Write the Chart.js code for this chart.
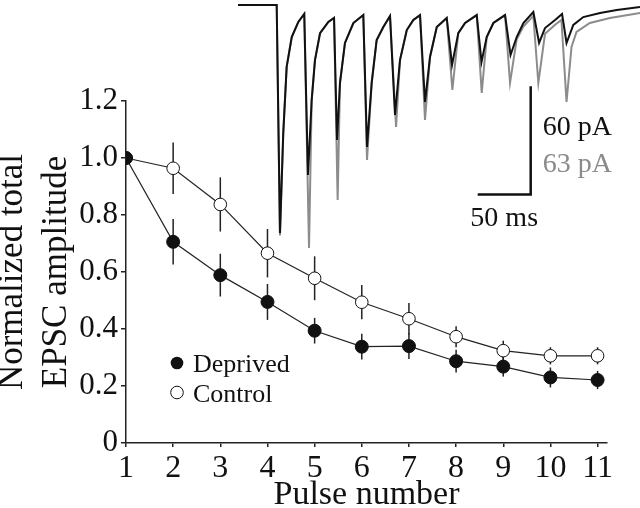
<!DOCTYPE html>
<html>
<head>
    <meta charset="utf-8">
    <title>Normalized total EPSC amplitude</title>
    <script src="https://cdn.jsdelivr.net/npm/chart.js"></script>
    <style>
        body {
            margin: 0;
            padding: 0;
            background-color: #fff;
        }

        #wrap {
            position: relative;
            width: 640px;
            height: 508px;
        }

        #mainChart {
            position: absolute;
            left: 0;
            top: 0;
        }

        #traceChart {
            position: absolute;
            left: 238px;
            top: 0;
        }
    </style>
</head>
<body>
    <div id="wrap">
        <canvas id="mainChart" width="640" height="508"></canvas>
        <canvas id="traceChart" width="402" height="250"></canvas>
    </div>

    <script>
        // main plot data
        var pulseNumbers = [1, 2, 3, 4, 5, 6, 7, 8, 9, 10, 11];
        var seriesNames = ['Deprived', 'Control'];
        var deprivedMean = [1.00, 0.706, 0.589, 0.495, 0.394, 0.338, 0.340, 0.287, 0.268, 0.230, 0.221];
        var deprivedErr = [0, 0.080, 0.075, 0.063, 0.045, 0.045, 0.045, 0.040, 0.035, 0.035, 0.032];
        var controlMean = [1.00, 0.964, 0.837, 0.666, 0.578, 0.494, 0.436, 0.373, 0.324, 0.306, 0.306];
        var controlErr = [0, 0.090, 0.095, 0.085, 0.077, 0.060, 0.055, 0.037, 0.035, 0.030, 0.030];
        var yTickValues = [0, 0.2, 0.4, 0.6, 0.8, 1.0, 1.2];
        var yTickLabels = ['0', '0.2', '0.4', '0.6', '0.8', '1.0', '1.2'];

        // inset traces (ms, pA)
        var blackT = [0, 36.5, 39.6, 42.7, 45.9, 50.7, 56.9, 62.5, 66.0, 69.5, 72.6, 77.4, 85.2, 90.6,
            93.4, 96.2, 100.9, 108.8, 118.2, 121.7, 126.1, 130.8, 137.1, 143.4, 148.1, 152.8, 159.2, 165.4, 171.7,
            176.4, 181.1, 187.5, 196.9, 201.9, 207.8, 214.2, 225.2, 229.7, 234.6, 240.9, 251.9,
            257.1, 262.9, 269.2, 278.6, 284.0, 289.6, 299.1, 305.7, 309.9, 316.3, 325.7, 341.5, 357.3, 379.2];
        var blackI = [0, 0, -126.7, -71.1, -34.4, -17.8, -9.4, -5.0, -94.4, -52.8, -30.6, -15.6, -9.4, -7.2,
            -75.0, -43.3, -21.1, -10.0, -5.6, -78.9, -43.3, -19.4, -12.2, -6.1, -61.1, -30.6, -13.9, -8.3, -5.6,
            -53.9, -28.9, -12.2, -7.2, -33.3, -15.6, -10.0, -5.6, -31.7, -17.8, -10.0, -5.6,
            -27.8, -17.8, -10.0, -3.9, -21.1, -12.8, -8.3, -5.0, -21.1, -11.1, -6.7, -4.4, -2.8, -1.1];
        var grayT = [0, 36.5, 39.6, 42.7, 45.9, 50.7, 56.9, 62.5, 67.0, 69.5, 72.6, 77.4, 85.2, 90.6,
            94.0, 96.2, 100.9, 108.8, 118.2, 121.7, 126.1, 130.8, 137.1, 143.4, 149.1, 152.8, 159.2, 165.4, 171.7,
            176.4, 181.1, 187.5, 196.9, 202.2, 207.8, 214.2, 225.2, 229.9, 234.6, 240.9, 251.9,
            256.6, 262.9, 269.2, 278.6, 283.3, 289.6, 299.1, 305.1, 309.9, 314.6, 319.3, 331.9, 350.8, 379.2];
        var grayI = [0, 0, -128.0, -71.1, -34.4, -17.8, -9.4, -5.0, -135.0, -52.8, -30.6, -15.6, -9.4, -7.2,
            -108.3, -43.3, -21.1, -10.0, -5.6, -86.1, -43.3, -19.4, -12.2, -6.1, -67.8, -30.6, -13.9, -8.3, -5.6,
            -63.9, -28.9, -12.2, -7.2, -47.2, -15.6, -10.0, -5.6, -48.9, -17.8, -10.0, -5.6,
            -43.3, -19.0, -12.0, -6.0, -43.3, -16.0, -11.0, -8.3, -53.9, -23.3, -15.0, -10.0, -7.2, -4.4];
        var scaleBarT = [226.1, 276.1, 276.1];
        var scaleBarI = [-105.2, -105.2, -45.2];
        var scaleLabels = ['60 pA', '63 pA', '50 ms'];

        var serif = "'Liberation Serif', 'Times New Roman', serif";

        function toPoints(xs, ys) {
            var pts = [];
            for (var i = 0; i < xs.length; i++) {
                pts.push({x: xs[i], y: ys[i]});
            }
            return pts;
        }

        var errorBars = {
            id: 'errorBars',
            beforeDatasetsDraw: function(chart) {
                var ctx = chart.ctx;
                var xs = chart.scales.x, ys = chart.scales.y;
                ctx.save();
                ctx.strokeStyle = '#222';
                ctx.lineWidth = 1.5;
                [[deprivedMean, deprivedErr], [controlMean, controlErr]].forEach(function(s) {
                    for (var i = 0; i < pulseNumbers.length; i++) {
                        if (!s[1][i]) continue;
                        var x = xs.getPixelForValue(pulseNumbers[i]);
                        ctx.beginPath();
                        ctx.moveTo(x, ys.getPixelForValue(s[0][i] - s[1][i]));
                        ctx.lineTo(x, ys.getPixelForValue(s[0][i] + s[1][i]));
                        ctx.stroke();
                    }
                });
                ctx.restore();
            }
        };

        // legend sits inside the plot, lower left
        var innerLegend = {
            id: 'innerLegend',
            afterDraw: function(chart) {
                var ctx = chart.ctx;
                var a = chart.chartArea;
                var mx = a.left + 51, my = a.top + 262;
                ctx.save();
                ctx.font = '26px ' + serif;
                ctx.textBaseline = 'alphabetic';
                ctx.fillStyle = '#111';
                for (var i = 0; i < seriesNames.length; i++) {
                    var y = my + i * 29.5;
                    ctx.beginPath();
                    ctx.arc(mx, y, 6.3, 0, Math.PI * 2);
                    if (i === 0) {
                        ctx.fillStyle = '#111';
                        ctx.fill();
                    } else {
                        ctx.fillStyle = '#fff';
                        ctx.fill();
                        ctx.strokeStyle = '#111';
                        ctx.lineWidth = 1;
                        ctx.stroke();
                    }
                    ctx.fillStyle = '#111';
                    ctx.fillText(seriesNames[i], mx + 16, y + 9);
                }
                ctx.restore();
            }
        };

        new Chart(document.getElementById('mainChart').getContext('2d'), {
            type: 'line',
            data: {
                datasets: [{
                    label: seriesNames[0],
                    data: toPoints(pulseNumbers, deprivedMean),
                    borderColor: '#222',
                    borderWidth: 1.2,
                    pointRadius: 6.5,
                    pointBackgroundColor: '#111',
                    pointBorderColor: '#111',
                    pointBorderWidth: 1
                }, {
                    label: seriesNames[1],
                    data: toPoints(pulseNumbers, controlMean),
                    borderColor: '#222',
                    borderWidth: 1.2,
                    pointRadius: 6.3,
                    pointBackgroundColor: '#fff',
                    pointBorderColor: '#111',
                    pointBorderWidth: 1
                }]
            },
            options: {
                responsive: false,
                animation: false,
                layout: {
                    padding: {top: 101, right: 33, left: 0, bottom: 0}
                },
                plugins: {
                    legend: {display: false},
                    tooltip: {enabled: false}
                },
                scales: {
                    x: {
                        type: 'linear',
                        min: 1,
                        max: 11.2,
                        afterBuildTicks: function(scale) {
                            scale.ticks = pulseNumbers.map(function(v) { return {value: v}; });
                        },
                        afterFit: function(scale) { scale.height = 65; },
                        grid: {drawOnChartArea: false, drawTicks: true, tickLength: 4, color: '#222', lineWidth: 1.5},
                        border: {color: '#222', width: 1.5},
                        ticks: {
                            color: '#111',
                            padding: 2,
                            maxRotation: 0,
                            font: {family: serif, size: 32}
                        },
                        title: {
                            display: true,
                            text: 'Pulse number',
                            color: '#111',
                            padding: {top: 0, bottom: -8},
                            font: {family: serif, size: 34, lineHeight: 1.25}
                        }
                    },
                    y: {
                        min: 0,
                        max: 1.2,
                        afterBuildTicks: function(scale) {
                            scale.ticks = yTickValues.map(function(v) { return {value: v}; });
                        },
                        afterFit: function(scale) { scale.width = 126; },
                        grid: {drawOnChartArea: false, drawTicks: true, tickLength: 5, color: '#222', lineWidth: 1.5},
                        border: {color: '#222', width: 1.5},
                        ticks: {
                            color: '#111',
                            padding: 3,
                            font: {family: serif, size: 31},
                            callback: function(value, index) { return yTickLabels[index]; }
                        },
                        title: {
                            display: true,
                            text: ['Normalized total', 'EPSC amplitude'],
                            color: '#111',
                            padding: {top: -9, bottom: 0},
                            font: {family: serif, size: 35, lineHeight: 1.25}
                        }
                    }
                }
            },
            plugins: [errorBars, innerLegend]
        });

        // scale bar labels next to the bar
        var barLabels = {
            id: 'barLabels',
            afterDraw: function(chart) {
                var ctx = chart.ctx;
                var xs = chart.scales.x, ys = chart.scales.y;
                var xEnd = xs.getPixelForValue(scaleBarT[1]);
                var xMid = (xs.getPixelForValue(scaleBarT[0]) + xEnd) / 2;
                var yBottom = ys.getPixelForValue(scaleBarI[0]);
                ctx.save();
                ctx.font = '28px ' + serif;
                ctx.textBaseline = 'alphabetic';
                ctx.fillStyle = '#111';
                ctx.textAlign = 'left';
                ctx.fillText(scaleLabels[0], xEnd + 12, 135);
                ctx.fillStyle = '#8a8a8a';
                ctx.fillText(scaleLabels[1], xEnd + 12, 172);
                ctx.fillStyle = '#111';
                ctx.textAlign = 'center';
                ctx.fillText(scaleLabels[2], xMid, yBottom + 32);
                ctx.restore();
            }
        };

        new Chart(document.getElementById('traceChart').getContext('2d'), {
            type: 'line',
            data: {
                datasets: [{
                    data: toPoints(blackT, blackI),
                    borderColor: '#111',
                    borderWidth: 2,
                    pointRadius: 0
                }, {
                    data: toPoints(grayT, grayI),
                    borderColor: '#8c8c8c',
                    borderWidth: 2,
                    pointRadius: 0
                }, {
                    data: toPoints(scaleBarT, scaleBarI),
                    borderColor: '#111',
                    borderWidth: 2.5,
                    pointRadius: 0
                }]
            },
            options: {
                responsive: false,
                animation: false,
                clip: false,
                layout: {padding: 0},
                plugins: {
                    legend: {display: false},
                    tooltip: {enabled: false}
                },
                scales: {
                    x: {type: 'linear', display: false, min: 0, max: 379.2},
                    y: {display: false, min: -136.1, max: 2.78}
                }
            },
            plugins: [barLabels]
        });
    </script>
</body>
</html>
